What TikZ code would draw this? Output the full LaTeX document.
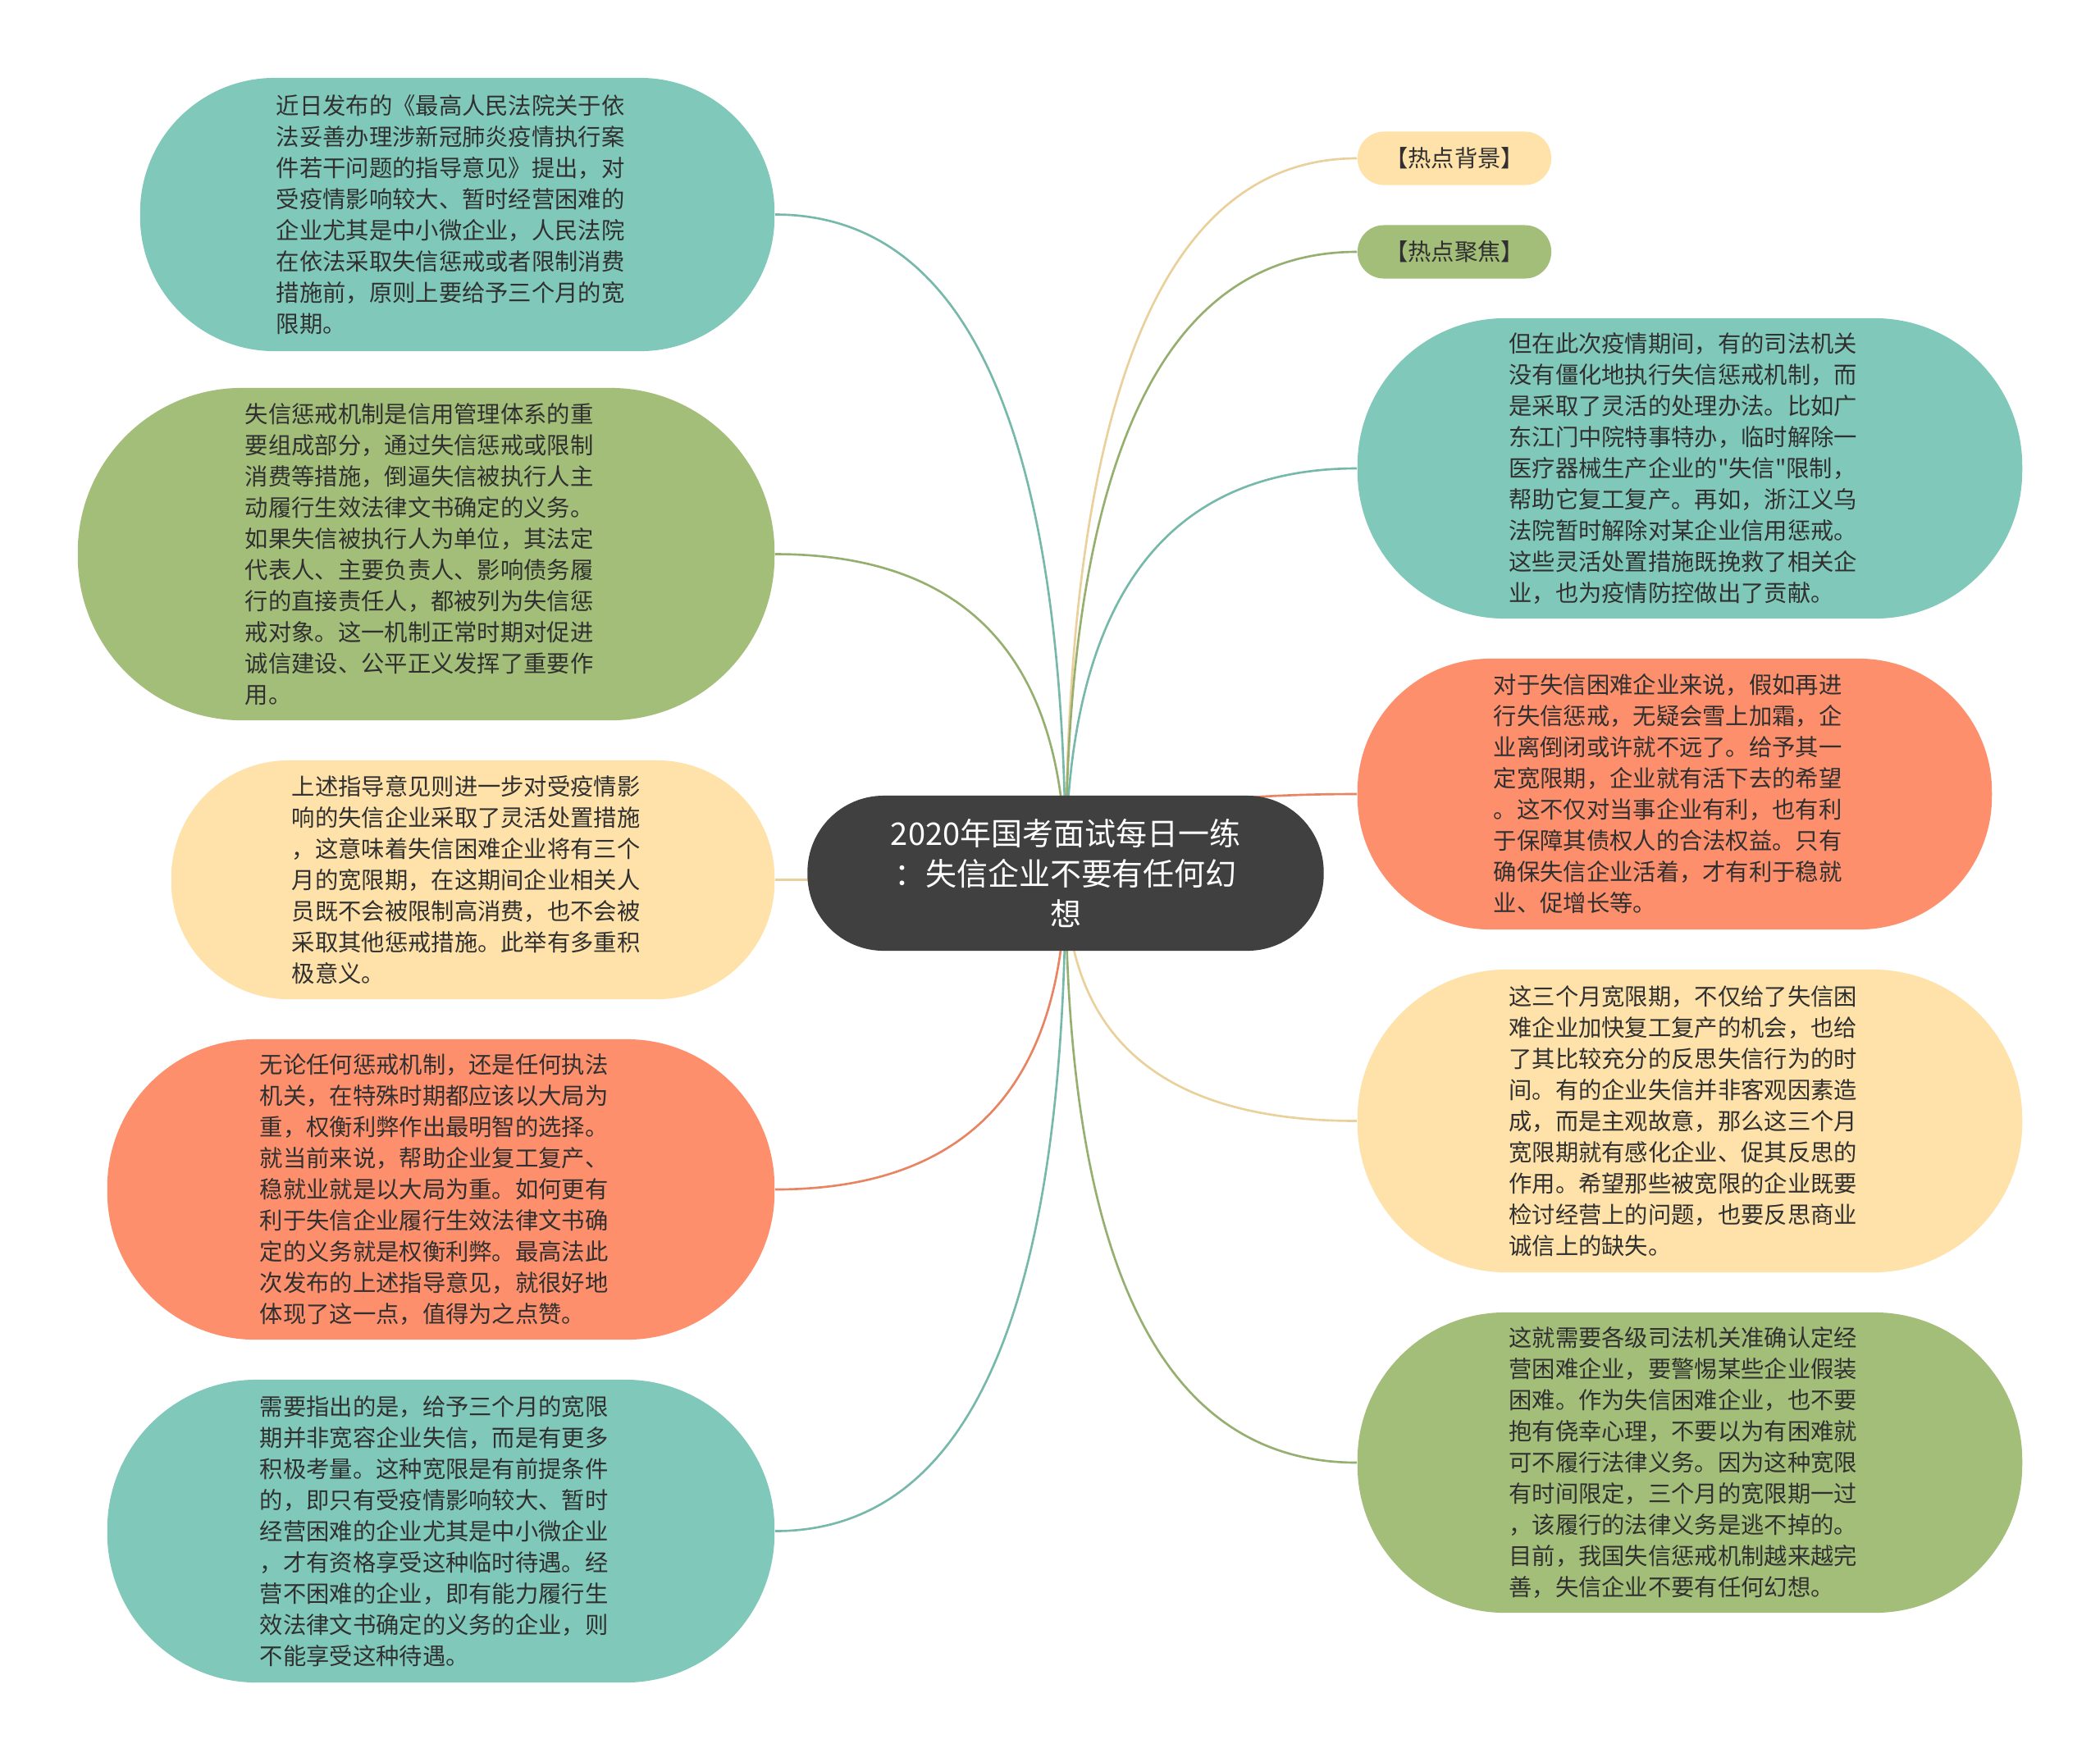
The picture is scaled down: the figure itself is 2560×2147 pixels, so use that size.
\documentclass[tikz,border=0pt]{standalone}
\usepackage{fontspec}
\setmainfont{Noto Sans CJK SC}[Ligatures=TeXOff]
\usepackage{xcolor}
\usepackage{tikz}
\usetikzlibrary{calc, backgrounds}
\definecolor{ink}{HTML}{404040}
\definecolor{mint}{HTML}{80C9BA}
\definecolor{moss}{HTML}{A3BE79}
\definecolor{sand}{HTML}{FEE2A9}
\definecolor{coral}{HTML}{FD8F6C}
\definecolor{txt}{HTML}{303030}

\begin{document}
\begin{tikzpicture}[
    x=0.01cm, y=-0.01cm,
    font=\fontsize{8.05pt}{10.8pt}\selectfont,
    hub/.style={rounded corners=0.93cm, fill=ink, text=white,
        minimum width=6.29cm, minimum height=1.89cm, align=center,
        inner sep=0pt, font=\fontsize{10.8pt}{14pt}\selectfont},
    topic/.style={fill=#1, text=txt, text width=4.41cm, align=left,
        inner sep=0pt},
    tagbox/.style={rounded corners=0.32cm, fill=#1, text=txt,
        minimum width=2.36cm, minimum height=0.65cm, inner sep=0pt},
    link/.style={draw=#1!92!black, line width=0.75pt,
        to path={.. controls ($(\tikztostart)!0.667!(\tikztostart |- \tikztotarget)$)
            and ($(\tikztotarget)!0.667!(\tikztostart |- \tikztotarget)$) .. (\tikztotarget)}},
  ]
  \useasboundingbox (0,0) rectangle (2560,2147);
  % centre
  \node[hub] (c) at (1299,1064.5) {2020年国考面试每日一练\\：失信企业不要有任何幻\\想};
  % left side
  \node[topic=mint, minimum width=7.73cm, minimum height=3.33cm, rounded corners=1.64cm] (l1) at (557.5,261.5)
    {近日发布的《最高人民法院关于依\\法妥善办理涉新冠肺炎疫情执行案\\件若干问题的指导意见》提出，对\\受疫情影响较大、暂时经营困难的\\企业尤其是中小微企业，人民法院\\在依法采取失信惩戒或者限制消费\\措施前，原则上要给予三个月的宽\\限期。};
  \node[topic=moss, minimum width=8.49cm, minimum height=4.05cm, rounded corners=2.0cm] (l2) at (519.5,675.5)
    {失信惩戒机制是信用管理体系的重\\要组成部分，通过失信惩戒或限制\\消费等措施，倒逼失信被执行人主\\动履行生效法律文书确定的义务。\\如果失信被执行人为单位，其法定\\代表人、主要负责人、影响债务履\\行的直接责任人，都被列为失信惩\\戒对象。这一机制正常时期对促进\\诚信建设、公平正义发挥了重要作\\用。};
  \node[topic=sand, minimum width=7.35cm, minimum height=2.91cm, rounded corners=1.43cm] (l3) at (576.5,1072.5)
    {上述指导意见则进一步对受疫情影\\响的失信企业采取了灵活处置措施\\，这意味着失信困难企业将有三个\\月的宽限期，在这期间企业相关人\\员既不会被限制高消费，也不会被\\采取其他惩戒措施。此举有多重积\\极意义。};
  \node[topic=coral, minimum width=8.13cm, minimum height=3.66cm, rounded corners=1.8cm] (l4) at (537.5,1450)
    {无论任何惩戒机制，还是任何执法\\机关，在特殊时期都应该以大局为\\重，权衡利弊作出最明智的选择。\\就当前来说，帮助企业复工复产、\\稳就业就是以大局为重。如何更有\\利于失信企业履行生效法律文书确\\定的义务就是权衡利弊。最高法此\\次发布的上述指导意见，就很好地\\体现了这一点，值得为之点赞。};
  \node[topic=mint, minimum width=8.13cm, minimum height=3.69cm, rounded corners=1.82cm] (l5) at (537.5,1866.5)
    {需要指出的是，给予三个月的宽限\\期并非宽容企业失信，而是有更多\\积极考量。这种宽限是有前提条件\\的，即只有受疫情影响较大、暂时\\经营困难的企业尤其是中小微企业\\，才有资格享受这种临时待遇。经\\营不困难的企业，即有能力履行生\\效法律文书确定的义务的企业，则\\不能享受这种待遇。};
  % right side
  \node[tagbox=sand] (h1) at (1773,193) {【热点背景】};
  \node[tagbox=moss] (h2) at (1773,307) {【热点聚焦】};
  \node[topic=mint, minimum width=8.10cm, minimum height=3.66cm, rounded corners=1.8cm] (r1) at (2060,571)
    {但在此次疫情期间，有的司法机关\\没有僵化地执行失信惩戒机制，而\\是采取了灵活的处理办法。比如广\\东江门中院特事特办，临时解除一\\医疗器械生产企业的"失信"限制，\\帮助它复工复产。再如，浙江义乌\\法院暂时解除对某企业信用惩戒。\\这些灵活处置措施既挽救了相关企\\业，也为疫情防控做出了贡献。};
  \node[topic=coral, minimum width=7.73cm, minimum height=3.30cm, rounded corners=1.62cm] (r2) at (2041.5,968)
    {对于失信困难企业来说，假如再进\\行失信惩戒，无疑会雪上加霜，企\\业离倒闭或许就不远了。给予其一\\定宽限期，企业就有活下去的希望\\。这不仅对当事企业有利，也有利\\于保障其债权人的合法权益。只有\\确保失信企业活着，才有利于稳就\\业、促增长等。};
  \node[topic=sand, minimum width=8.10cm, minimum height=3.69cm, rounded corners=1.82cm] (r3) at (2060,1366.5)
    {这三个月宽限期，不仅给了失信困\\难企业加快复工复产的机会，也给\\了其比较充分的反思失信行为的时\\间。有的企业失信并非客观因素造\\成，而是主观故意，那么这三个月\\宽限期就有感化企业、促其反思的\\作用。希望那些被宽限的企业既要\\检讨经营上的问题，也要反思商业\\诚信上的缺失。};
  \node[topic=moss, minimum width=8.10cm, minimum height=3.66cm, rounded corners=1.8cm] (r4) at (2060,1783)
    {这就需要各级司法机关准确认定经\\营困难企业，要警惕某些企业假装\\困难。作为失信困难企业，也不要\\抱有侥幸心理，不要以为有困难就\\可不履行法律义务。因为这种宽限\\有时间限定，三个月的宽限期一过\\，该履行的法律义务是逃不掉的。\\目前，我国失信惩戒机制越来越完\\善，失信企业不要有任何幻想。};
  % connectors
  \begin{scope}[on background layer]
    \fill[white] (0,0) rectangle (2560,2147);
    \draw[link=mint] (c.center) to (l1.east);
    \draw[link=moss] (c.center) to (l2.east);
    \draw[link=sand] (c.center) to (l3.east);
    \draw[link=coral] (c.center) to (l4.east);
    \draw[link=mint] (c.center) to (l5.east);
    \draw[link=sand] (c.center) to (h1.west);
    \draw[link=moss] (c.center) to (h2.west);
    \draw[link=mint] (c.center) to (r1.west);
    \draw[link=coral] (c.center) to (r2.west);
    \draw[link=sand] (c.center) to (r3.west);
    \draw[link=moss] (c.center) to (r4.west);
  \end{scope}
\end{tikzpicture}
\end{document}
